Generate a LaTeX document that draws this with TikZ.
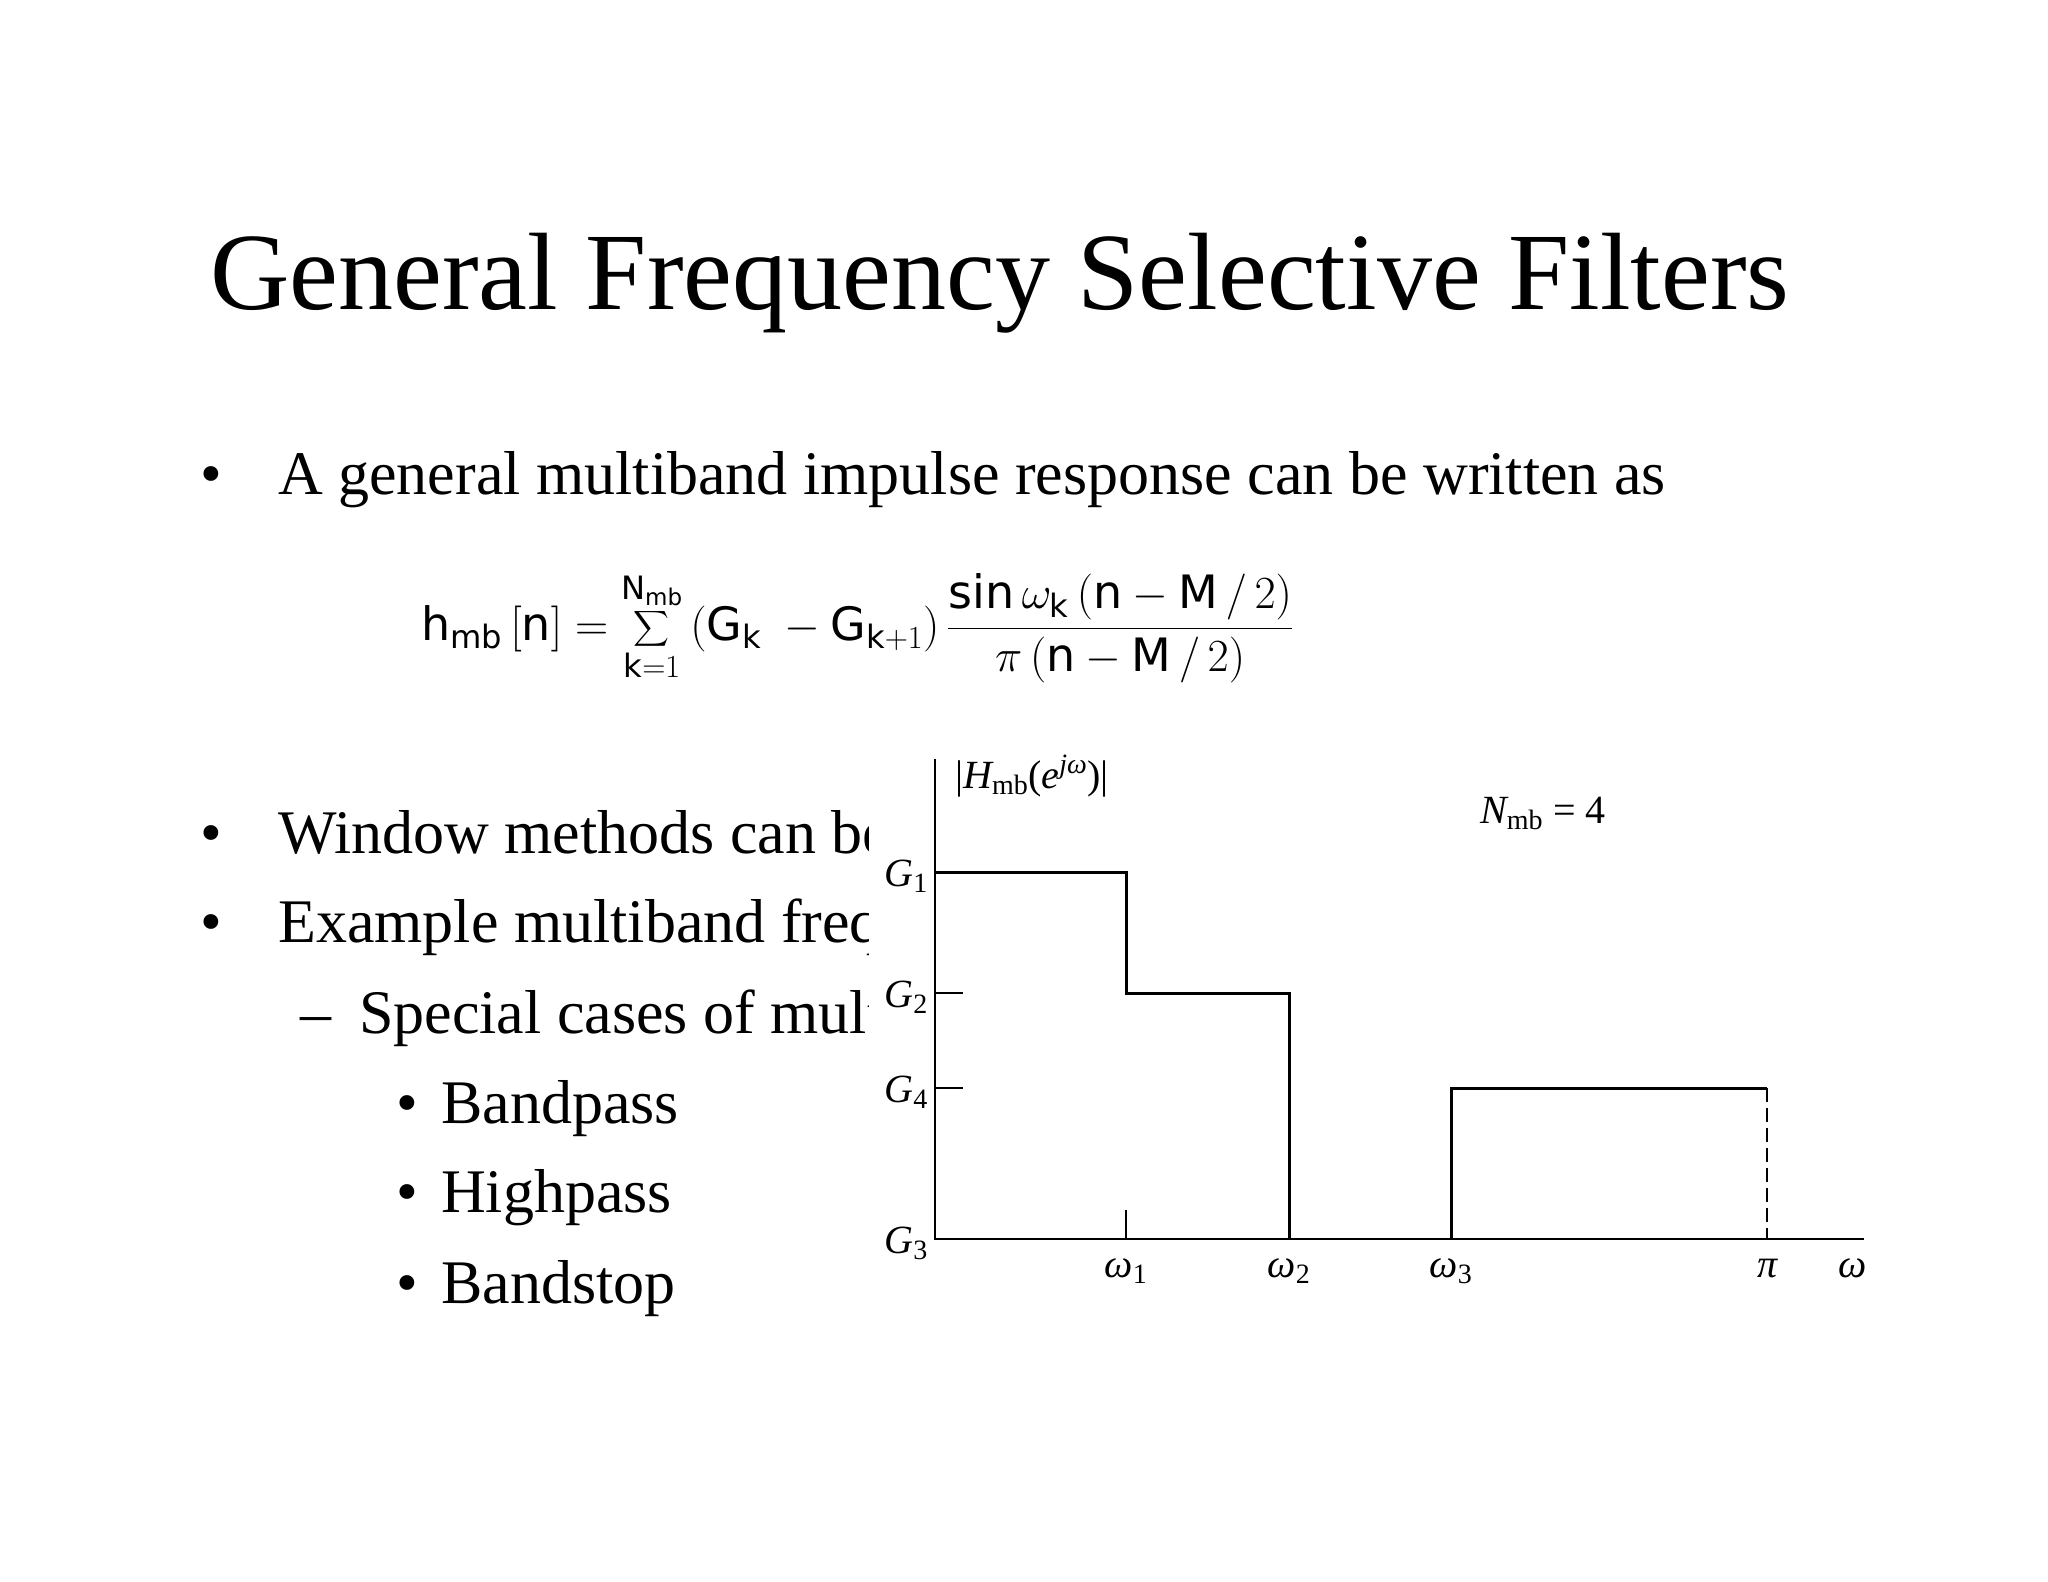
\RequirePackage{fix-cm}
\documentclass[tikz,border=0pt]{standalone}
\usepackage{amsmath}
\usepackage{fontspec}
\setmainfont{Liberation Serif}
\newfontfamily\eqfont{DejaVu Sans}
\begin{document}
\begin{tikzpicture}[x=1pt,y=-1pt,
  body/.style={anchor=base west,inner sep=0,font=\fontsize{62}{66}\selectfont},
  plab/.style={inner sep=0,font=\fontsize{40}{42}\selectfont\itshape},
  stepln/.style={line width=3pt},
  axln/.style={line width=2pt}]
\useasboundingbox (0,0) rectangle (2048,1582);
\node[anchor=base west,inner sep=0,font=\fontsize{110}{120}\selectfont] (title) at (210,309) {General Frequency Selective Filters};
\node[body] (b1) at (200,494) {•};
\node[body] (t1) at (278,494) {A general multiband impulse response can be written as};
\node[anchor=base west,inner sep=0,font=\eqfont\fontsize{46}{50}\selectfont] (eq) at (421,640)
 {$\displaystyle \text{h}_{\text{mb}}\left[\text{n}\right]=\sum_{\text{k}=1}^{\text{N}_{\text{mb}}}\left(\text{G}_{\text{k}}\;-\text{G}_{\text{k}+1}\right)\frac{\text{sin}\,\omega_{\text{k}}\left(\text{n}-\text{M}\,/\,2\right)}{\pi\left(\text{n}-\text{M}\,/\,2\right)}$};
\node[body] (b2) at (200,853) {•};
\node[body] (t2) at (278,853) {Window methods can be used};
\node[body] (b3) at (200,942) {•};
\node[body] (t3) at (278,942) {Example multiband frequency};
\node[body] (d1) at (300,1033) {–};
\node[body] (t4) at (359,1033) {Special cases of multiband};
\node[body] (b4) at (396,1123) {•};
\node[body] (t5) at (441,1123) {Bandpass};
\node[body] (b5) at (396,1212) {•};
\node[body] (t6) at (441,1212) {Highpass};
\node[body] (b6) at (396,1303) {•};
\node[body] (t7) at (441,1303) {Bandstop};
% plot
\fill[white] (869,740) rectangle (1880,1300);
\begin{scope}[shift={(-7,6)}]
\coordinate (o) at (942,1233);
\coordinate (top) at (942,753);
\coordinate (xe) at (1871,1233);
\draw[axln] (top) -- (o) -- (xe);
\draw[stepln] (942,866) -- (1133,866) -- (1133,987) -- (1296,987) -- (1296,1233);
\draw[stepln] (1458,1233) -- (1458,1082) -- (1774,1082);
\draw[line width=1.2pt,dash pattern=on 14pt off 6pt] (1774,1082) -- (1774,1233);
\draw[line width=1.2pt] (942,987) -- (970,987) (942,1082) -- (970,1082) (1133,1204) -- (1133,1233);
\node[plab,anchor=east] (g1) at (935,870) {G\textsubscript{\upshape 1}};
\node[plab,anchor=east] (g2) at (935,991) {G\textsubscript{\upshape 2}};
\node[plab,anchor=east] (g4) at (935,1086) {G\textsubscript{\upshape 4}};
\node[plab,anchor=east] (g3) at (935,1237) {G\textsubscript{\upshape 3}};
\node[plab] (w1) at (1133,1265) {ω\textsubscript{\upshape 1}};
\node[plab] (w2) at (1296,1265) {ω\textsubscript{\upshape 2}};
\node[plab] (w3) at (1458,1265) {ω\textsubscript{\upshape 3}};
\node[plab] (pi) at (1774,1262) {π};
\node[plab] (w) at (1860,1262) {ω};
\node[plab,anchor=west] (hl) at (962,770) {\upshape|\itshape H\textsubscript{\upshape mb}\upshape(\itshape e\textsuperscript{jω}\upshape)|};
\node[plab] (nmb) at (1550,807) {N\textsubscript{\upshape mb}\upshape{} = 4};
\end{scope}
\end{tikzpicture}
\end{document}
